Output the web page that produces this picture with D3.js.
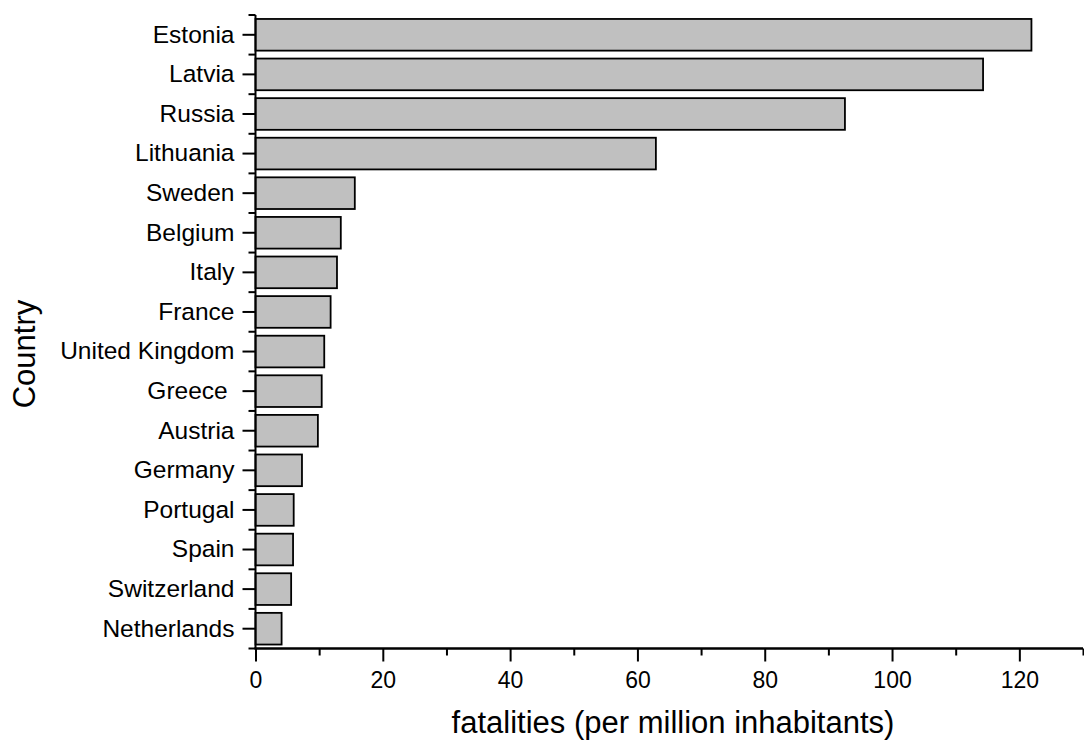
<!DOCTYPE html>
<html>
<head>
<meta charset="utf-8">
<script src="https://cdn.jsdelivr.net/npm/d3@7"></script>
<style>
body { margin: 0; background: #fff; }
text { font-family: "Liberation Sans", Arial, sans-serif; fill: #000; }
</style>
</head>
<body>
<svg id="chart" width="1084" height="742"></svg>
<script>
const countries = ["Estonia", "Latvia", "Russia", "Lithuania", "Sweden", "Belgium", "Italy", "France",
  "United Kingdom", "Greece ", "Austria", "Germany", "Portugal", "Spain", "Switzerland", "Netherlands"];
const fatalities = [121.9, 114.3, 92.6, 62.9, 15.6, 13.4, 12.8, 11.8, 10.8, 10.4, 9.8, 7.3, 6.0, 5.9, 5.6, 4.1];
const xTicks = [0, 20, 40, 60, 80, 100, 120];
const xMinorTicks = [10, 30, 50, 70, 90, 110, 130];
const xTitle = "fatalities (per million inhabitants)";
const yTitle = "Country";

const svg = d3.select("#chart");
const mLeft = 255.5, mRight = 1083, mTop = 15, mBottom = 648.5;
const fontFam = "'Liberation Sans', Arial, sans-serif";

const x = d3.scaleLinear().domain([0, 130]).range([mLeft, mRight]);
const y = d3.scaleBand().domain(countries).range([mTop, mBottom]).paddingInner(0.2).paddingOuter(0.1);

// bars
svg.append("g").selectAll("rect").data(countries).join("rect")
  .attr("x", x(0))
  .attr("y", d => y(d))
  .attr("width", (d, i) => x(fatalities[i]) - x(0))
  .attr("height", y.bandwidth())
  .attr("fill", "#c0c0c0")
  .attr("stroke", "#000")
  .attr("stroke-width", 1.8);

// x axis
const gx = svg.append("g").attr("transform", `translate(0,${mBottom})`);
gx.call(d3.axisBottom(x).tickValues(xTicks).tickSize(13).tickSizeOuter(0).tickPadding(10).tickFormat(d3.format("d")));
gx.append("g").call(d3.axisBottom(x).tickValues(xMinorTicks).tickSize(7).tickSizeOuter(0).tickFormat(""));
gx.selectAll("path").attr("stroke", "#000").attr("stroke-width", 2);
gx.selectAll("line").attr("stroke", "#000").attr("stroke-width", 2);
gx.selectAll("text").style("font-size", "23px").style("font-family", fontFam).attr("fill", "#000");
gx.selectAll(".domain").attr("d", `M${mLeft - 1},0H${mRight}`);

// y axis
const boundaries = d3.range(countries.length + 1).map(i => mTop + i * (mBottom - mTop) / countries.length);
const gy = svg.append("g").attr("transform", `translate(${mLeft},0)`);
gy.call(d3.axisLeft(y).tickSize(13).tickSizeOuter(0).tickPadding(8));
gy.selectAll(".domain").attr("d", `M0,${mTop}V${mBottom}`);
gy.append("g").selectAll("line").data(boundaries).join("line")
  .attr("x1", -7).attr("x2", 0).attr("y1", d => d).attr("y2", d => d);
gy.selectAll("path").attr("stroke", "#000").attr("stroke-width", 2);
gy.selectAll("line").attr("stroke", "#000").attr("stroke-width", 2);
gy.selectAll("text").style("font-size", "24.5px").style("font-family", fontFam)
  .style("white-space", "pre").attr("fill", "#000");

// titles
svg.append("text")
  .attr("x", 673)
  .attr("y", 733)
  .attr("text-anchor", "middle")
  .style("font-size", "31px")
  .text(xTitle);

svg.append("text")
  .attr("transform", `translate(35,354) rotate(-90)`)
  .attr("text-anchor", "middle")
  .style("font-size", "31px")
  .text(yTitle);
</script>
</body>
</html>
